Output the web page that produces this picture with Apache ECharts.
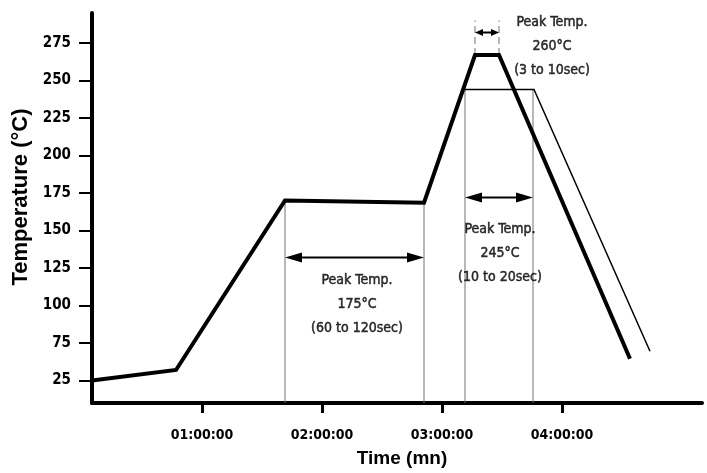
<!DOCTYPE html>
<html>
<head>
<meta charset="utf-8">
<script src="https://cdn.jsdelivr.net/npm/echarts@6/dist/echarts.min.js"></script>
<style>
html,body{margin:0;padding:0;background:#fff;}
#chart{width:707px;height:473px;}
</style>
</head>
<body>
<div id="chart"></div>
<script>
// ---- data (time in minutes, temperature in °C as read on the printed axis) ----
var yTickLabels = [25, 75, 100, 125, 150, 175, 200, 225, 250, 275];
var xTickMinutes = [60, 120, 180, 240];

// thick profile (peak 260°C)
var profileTime = [5, 47, 101.5, 171, 196.5, 208.5, 274];
var profileTemp = [25, 39, 170, 168.5, 267, 267, 54];

// thin profile (peak 245°C)
var rampTime = [191.5, 226, 284];
var rampTemp = [244, 244, 64];

// grey guide lines: time, top temperature
var guideTime = [101.5, 171, 191.5, 225.5];
var guideTop  = [170, 168.5, 244, 244];

// dashed guide lines for the 260°C window
var dashTime = [196.5, 208.5];
var dashLow = 267, dashHigh = 290;

// double arrows: start time, end time, temperature
var arrowStart = [101.5, 191.5, 196.5];
var arrowEnd   = [171, 225.5, 208.5];
var arrowTemp  = [132, 172, 282];

// annotation texts: time, temperature, text
var noteTime = [137.5, 209, 235];
var noteTemp = [101, 135, 273];
var noteText = [
  'Peak Temp.\n175°C\n(60 to 120sec)',
  'Peak Temp.\n245°C\n(10 to 20sec)',
  'Peak Temp.\n260°C\n(3 to 10sec)'
];

// The printed temperature axis places "25" where 50 would sit (broken scale)
function toAxis(v){ return v >= 75 ? v : 50 + (v - 25) / 2; }
function fromAxis(p){ return p >= 75 ? p : 25 + (p - 50) * 2; }
function fmtTime(m){
  var h = Math.floor(m / 60), mm = Math.round(m % 60);
  function z(n){ return (n < 10 ? '0' : '') + n; }
  return z(h) + ':' + z(mm) + ':00';
}

var COND = '"DejaVu Sans Condensed", "DejaVu Sans", sans-serif';

var profileData = profileTime.map(function(t, i){ return [t, toAxis(profileTemp[i])]; });
var rampData = rampTime.map(function(t, i){ return [t, toAxis(rampTemp[i])]; });
var guideData = guideTime.map(function(t, i){ return [t, toAxis(guideTop[i])]; });
var dashData = dashTime.map(function(t){ return [t, toAxis(dashLow), toAxis(dashHigh)]; });
var arrowData = arrowStart.map(function(t, i){ return [t, arrowEnd[i], toAxis(arrowTemp[i])]; });
var noteData = noteTime.map(function(t, i){ return [t, toAxis(noteTemp[i]), noteText[i]]; });

var chart = echarts.init(document.getElementById('chart'), null, {renderer: 'canvas'});
chart.setOption({
  animation: false,
  backgroundColor: '#fff',
  grid: {left: 92, right: 5, top: 13, bottom: 70, containLabel: false, outerBoundsMode: 'none'},
  xAxis: {
    type: 'value', min: 5, max: 310,
    name: 'Time (mn)', nameLocation: 'middle', nameGap: 46,
    nameTextStyle: {fontFamily: '"Liberation Sans", Arial, sans-serif', fontWeight: 'bold', fontSize: 19, color: '#000', padding: [0, 0, 0, 10]},
    axisLine: {show: true, onZero: false, lineStyle: {color: '#000', width: 4}},
    axisTick: {show: true, customValues: xTickMinutes, length: 10, lineStyle: {color: '#000', width: 3}},
    axisLabel: {customValues: xTickMinutes, formatter: function(v){ return fmtTime(v); },
      margin: 25, fontFamily: COND, fontWeight: 'bold condensed', fontSize: 14, color: '#000'},
    splitLine: {show: false}
  },
  yAxis: {
    type: 'value', min: 35, max: 295,
    name: 'Temperature (°C)', nameLocation: 'middle', nameGap: 58,
    nameTextStyle: {fontFamily: '"Liberation Sans", Arial, sans-serif', fontWeight: 'bold', fontSize: 22, color: '#000', padding: [0, 0, 0, 22]},
    axisLine: {show: true, onZero: false, lineStyle: {color: '#000', width: 4}},
    axisTick: {show: true, customValues: yTickLabels.map(toAxis), length: 13, lineStyle: {color: '#000', width: 2}},
    axisLabel: {customValues: yTickLabels.map(toAxis), formatter: function(v){ return String(Math.round(fromAxis(v))); },
      margin: 21, fontFamily: COND, fontWeight: 'bold condensed', fontSize: 15, color: '#000'},
    splitLine: {show: false}
  },
  series: [
    {
      name: 'guides', type: 'custom', silent: true, z: 1,
      data: guideData,
      renderItem: function(params, api){
        var top = api.coord([api.value(0), api.value(1)]);
        var bottom = params.coordSys.y + params.coordSys.height;
        return {type: 'line', shape: {x1: top[0], y1: top[1], x2: top[0], y2: bottom},
          style: {stroke: '#707070', lineWidth: 1}};
      }
    },
    {
      name: 'dashGuides', type: 'custom', silent: true, z: 1,
      data: dashData,
      renderItem: function(params, api){
        var a = api.coord([api.value(0), api.value(1)]);
        var b = api.coord([api.value(0), api.value(2)]);
        return {type: 'line', shape: {x1: a[0], y1: a[1], x2: b[0], y2: b[1]},
          style: {stroke: '#707070', lineWidth: 1, lineDash: [7, 4]}};
      }
    },
    {
      name: 'arrows', type: 'custom', silent: true, z: 3,
      data: arrowData,
      renderItem: function(params, api){
        var p1 = api.coord([api.value(0), api.value(2)]);
        var p2 = api.coord([api.value(1), api.value(2)]);
        var len = p2[0] - p1[0];
        var hl = len < 40 ? 8 : 17, hw = len < 40 ? 7 : 10;
        var y = p1[1];
        return {type: 'group', children: [
          {type: 'line', shape: {x1: p1[0] + hl - 1, y1: y, x2: p2[0] - hl + 1, y2: y}, style: {stroke: '#000', lineWidth: 2}},
          {type: 'polygon', shape: {points: [[p1[0], y], [p1[0] + hl, y - hw / 2], [p1[0] + hl, y + hw / 2]]}, style: {fill: '#000'}},
          {type: 'polygon', shape: {points: [[p2[0], y], [p2[0] - hl, y - hw / 2], [p2[0] - hl, y + hw / 2]]}, style: {fill: '#000'}}
        ]};
      }
    },
    {
      name: 'Peak 245°C', type: 'line', data: rampData, z: 2,
      symbol: 'none', lineStyle: {color: '#000', width: 1.5, join: 'miter'}
    },
    {
      name: 'Peak 260°C', type: 'line', data: profileData, z: 4,
      symbol: 'none', lineStyle: {color: '#000', width: 4, join: 'miter'}
    },
    {
      name: 'notes', type: 'scatter', data: noteData, symbolSize: 0, silent: true, z: 5,
      label: {show: true, position: 'inside', formatter: function(p){ return p.value[2]; },
        fontFamily: COND, fontWeight: 'normal condensed', fontSize: 14, lineHeight: 24,
        color: '#000', textBorderColor: '#000', textBorderWidth: 0.5, align: 'center', verticalAlign: 'middle'}
    }
  ]
});
</script>
</body>
</html>
